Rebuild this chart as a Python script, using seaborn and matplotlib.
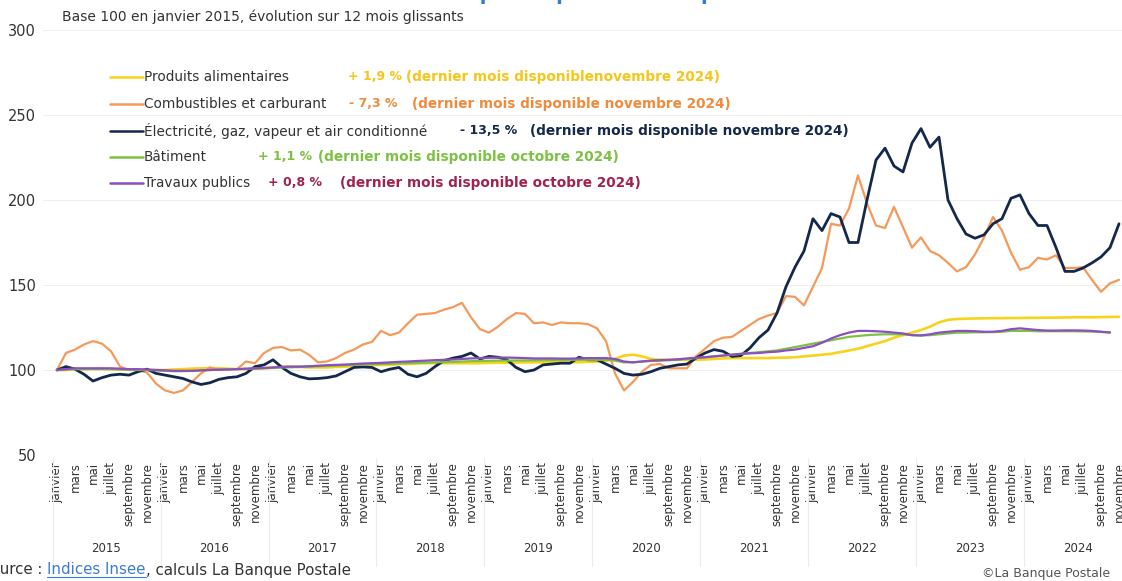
import numpy as np
import pandas as pd
import matplotlib
matplotlib.use("Agg")
import matplotlib.pyplot as plt
import matplotlib.transforms as mtransforms
import seaborn as sns

# ---------------- data ----------------
month_names = ["janvier", "février", "mars", "avril", "mai", "juin", "juillet",
               "août", "septembre", "octobre", "novembre", "décembre"]
years = list(range(2015, 2025))

alimentaires = [
    100, 100, 100.5, 100.5, 100.7, 100.7, 100.5, 100.3, 100.2, 100, 100, 100,
    100, 100.3, 100.5, 100.8, 101, 101.2, 101, 100.8, 100.5, 100.5, 100.8, 101,
    101.5, 102, 102, 101.8, 101.5, 101.5, 101.5, 101.8, 102, 102.3, 102.5, 102.8,
    103, 103, 103.5, 103.5, 103.8, 104, 104, 104, 104, 104, 104, 104,
    104.2, 104.3, 104.3, 104.4, 104.5, 104.5, 104.5, 104.5, 104.5, 104.5, 104.6, 104.8,
    105, 105.5, 106.5, 108.5, 109, 108, 106.5, 106, 106, 106, 106, 106,
    106.2, 106.5, 106.8, 107, 107, 107, 107, 107, 107.2, 107.3, 107.5, 108,
    108.5, 109, 109.5, 110.5, 111.5, 112.5, 114, 115.5, 117, 119, 120.5, 122,
    123.5, 125.5, 128, 129.5, 130, 130.2, 130.3, 130.4, 130.5, 130.5, 130.6, 130.6,
    130.7, 130.7, 130.8, 130.8, 130.9, 131, 131, 131, 131.1, 131.2, 131.3,
]

combustibles = [
    100, 110, 112, 115, 117, 115.5, 111, 102, 100, 100, 98.5, 92,
    88, 86.5, 88, 93, 98, 101.5, 100, 100.5, 100.5, 105, 104, 110,
    113, 113.5, 111.5, 112, 109, 104.5, 105, 107, 110, 112, 115, 116.5,
    123, 120.5, 122, 127.5, 132.5, 133, 133.5, 135.5, 137, 139.5, 131, 124,
    122, 125.5, 130, 133.5, 133, 127.5, 128, 126.5, 128, 127.5, 127.5, 127,
    124.5, 117, 98, 88, 93, 99, 103, 103.5, 101, 101, 101, 108,
    112.5, 117, 119, 119.5, 123, 126.5, 130, 132, 133.5, 143.5, 143, 138,
    149, 160, 186, 185, 195, 214.5, 198, 185, 183.5, 196, 184, 172,
    178, 170, 167.5, 163, 158, 160.5, 168, 178, 190, 182, 169, 159,
    160.5, 166, 165, 167.5, 160, 160, 160.5, 153, 146, 151, 153,
]

electricite = [
    100, 102, 100.5, 97.5, 93.5, 95.5, 97, 97.5, 97, 99, 100.5, 98,
    97, 96, 95, 93, 91.5, 92.5, 94.5, 95.5, 96, 98, 102, 103,
    106, 101.5, 98, 96, 94.8, 95, 95.5, 96.5, 99, 101.5, 101.8, 101.5,
    99, 100.5, 101.5, 97.5, 96, 98, 102, 105.5, 107, 108, 110, 106.5,
    108, 107.5, 106, 101.5, 99, 100, 103, 103.5, 104, 104, 107.5, 106,
    106, 103.5, 101, 98, 97, 97.5, 99, 101, 102, 103, 103.5, 107,
    110, 112, 111, 108, 108.5, 113, 119, 123.5, 133.5, 149, 160.5, 170,
    189, 182, 192, 190, 175, 175, 200, 223.5, 230.5, 220, 216.5, 233.5,
    242, 231, 237, 200, 189, 180, 177.5, 179.5, 186, 189, 201, 203,
    192, 185, 185, 172, 158, 158, 160, 163, 166.5, 172, 186,
]

batiment = [
    100, 100.2, 100.5, 100.5, 100.5, 100.5, 100.5, 100.3, 100.2, 100, 100, 99.8,
    99.5, 99.3, 99.3, 99.5, 99.7, 100, 100.2, 100.3, 100.5, 100.6, 100.8, 101,
    101.2, 101.5, 101.6, 101.8, 102, 102.2, 102.4, 102.6, 102.8, 103, 103.2, 103.4,
    103.5, 103.7, 103.8, 104, 104.2, 104.3, 104.5, 104.6, 104.8, 105, 105.2, 105.3,
    105.4, 105.5, 105.5, 105.6, 105.6, 105.7, 105.8, 105.8, 105.9, 106, 106, 106,
    106, 106, 105.5, 104.5, 104.5, 105, 105.3, 105.5, 105.8, 106, 106.5, 107,
    107.5, 108, 108.5, 109, 109.5, 110, 110.5, 111, 111.5, 112.5, 113.5, 114.5,
    115.5, 116.5, 117.5, 118.5, 119.5, 120, 120.5, 120.8, 121, 121, 121, 120.5,
    120.3, 120.5, 121, 121.5, 122, 122, 122.2, 122.2, 122.3, 122.5, 123, 123,
    123, 122.8, 122.8, 122.8, 122.8, 122.8, 122.7, 122.6, 122.4, 122.2,
]

travaux = [
    100, 100.5, 101, 101, 101, 101, 101, 100.8, 100.5, 100.5, 100.3, 100,
    99.8, 99.5, 99.5, 99.5, 99.8, 100, 100.2, 100.3, 100.5, 100.8, 101, 101.2,
    101.5, 101.8, 102, 102, 102.2, 102.5, 102.8, 103, 103.2, 103.5, 103.8, 104,
    104.2, 104.5, 104.8, 105, 105.3, 105.5, 105.8, 106, 106.2, 106.5, 106.8, 107,
    107.2, 107.3, 107.3, 107.2, 107, 106.8, 106.8, 106.8, 106.7, 106.7, 106.8, 107,
    107, 107, 106.5, 105, 104.5, 105, 105.5, 105.8, 106, 106.3, 106.8, 107.2,
    107.5, 108, 108.5, 109, 109.5, 109.8, 110, 110.5, 110.8, 111.5, 112, 113,
    114, 116, 118.5, 120.5, 122, 123, 123, 122.8, 122.5, 122, 121.5, 120.5,
    120.3, 121, 122, 122.5, 123, 123, 122.8, 122.5, 122.5, 123, 124, 124.5,
    124, 123.5, 123.2, 123.2, 123.3, 123.3, 123.2, 123, 122.5, 122,
]

series_names = ["Produits alimentaires", "Combustibles et carburant",
                "Électricité, gaz, vapeur et air conditionné", "Bâtiment",
                "Travaux publics"]
series_values = [alimentaires, combustibles, electricite, batiment, travaux]
series_colors = ["#f7d31a", "#f5995a", "#14284b", "#7cc142", "#8b4fc0"]
series_widths = [1.9, 1.6, 2.0, 1.6, 1.6]

pct_texts = ["+ 1,9 %", "- 7,3 %", "- 13,5 %", "+ 1,1 %", "+ 0,8 %"]
note_texts = ["(dernier mois disponiblenovembre 2024)",
              "(dernier mois disponible novembre 2024)",
              "(dernier mois disponible novembre 2024)",
              "(dernier mois disponible octobre 2024)",
              "(dernier mois disponible octobre 2024)"]
note_colors = ["#f5c518", "#f08a3c", "#14284b", "#7cc142", "#a0234f"]

yticks = [50, 100, 150, 200, 250, 300]

# ---------------- frame ----------------
rows = []
for name, vals in zip(series_names, series_values):
    for i, v in enumerate(vals):
        rows.append({"mois": i, "indice": v, "serie": name})
df = pd.DataFrame(rows)

# ---------------- figure ----------------
sns.set_theme(style="white")
plt.rcParams["font.family"] = ["DejaVu Sans"]

W, H = 1122, 581
fig = plt.figure(figsize=(W / 100, H / 100), dpi=100)
fig.patch.set_facecolor("white")


def fx(px):
    return px / W


def fy(py):
    return 1 - py / H


ax = fig.add_axes([fx(43), fy(455), (1140 - 43) / W, 425 / H])
ax.set_xlim((43 - 57) / 9, (1140 - 57) / 9)
ax.set_ylim(50, 300)

for name, col, lw in zip(series_names, series_colors, series_widths):
    sns.lineplot(data=df[df["serie"] == name], x="mois", y="indice",
                 color=col, linewidth=lw, ax=ax, legend=False)

for s in ax.spines.values():
    s.set_visible(False)

ax.set_yticks(yticks)
ax.set_yticklabels([str(t) for t in yticks], fontsize=10.5, color="#333333")
ax.tick_params(axis="y", length=0, pad=5)
ax.yaxis.grid(True, color="#efefef", linewidth=0.8)
ax.set_axisbelow(True)
ax.set_xlabel("")
ax.set_ylabel("")

n_months = len(alimentaires)
xt = list(range(0, n_months + 1, 2))
ax.set_xticks(xt)
ax.set_xticklabels([month_names[i % 12] for i in xt], rotation=90,
                   fontsize=8.5, color="#333333", va="top", ha="center")
ax.tick_params(axis="x", length=0, pad=5)

trans = mtransforms.blended_transform_factory(ax.transData, ax.transAxes)
for k, yr in enumerate(years):
    ax.text(12 * k + 5.5, (455 - 549) / 425, str(yr), transform=trans,
            ha="center", va="center", fontsize=8.5, color="#333333")
for k in range(0, len(years) + 1):
    ax.plot([12 * k - 0.5, 12 * k - 0.5], [(455 - 458) / 425, (455 - 566) / 425],
            transform=trans, color="#ececec", linewidth=0.8, clip_on=False)

# ---------------- legend block ----------------
row_y = [77, 104, 131, 157, 183]
pct_x = [348, 349, 460, 258, 268]
note_x = [406, 412, 530, 318, 340]
for k in range(5):
    y = fy(row_y[k])
    fig.add_artist(plt.Line2D([fx(110), fx(143)], [y, y], color=series_colors[k],
                              linewidth=1.8, transform=fig.transFigure))
    fig.text(fx(144), y, series_names[k], fontsize=9.8, color="#333333",
             va="center", ha="left")
    fig.text(fx(pct_x[k]), y, pct_texts[k], fontsize=9, fontweight="bold",
             color=note_colors[k], va="center", ha="left")
    fig.text(fx(note_x[k]), y, note_texts[k], fontsize=9.8, fontweight="bold",
             color=note_colors[k], va="center", ha="left")

# ---------------- titles & notes ----------------
fig.text(fx(600), 1.0 + 6 / H, "Indices de prix impactant la dépense locale",
         fontsize=14, fontweight="bold", color="#2a7de1", ha="center", va="center")
fig.text(fx(62), fy(17), "Base 100 en janvier 2015, évolution sur 12 mois glissants",
         fontsize=10, color="#333333", ha="left", va="center")

fig.canvas.draw()
renderer = fig.canvas.get_renderer()
t1 = fig.text(fx(-19), fy(570), "Source : ", fontsize=10.8, color="#333333",
              ha="left", va="center")
bb = t1.get_window_extent(renderer)
x2 = bb.x1 / W
t2 = fig.text(x2, fy(570), "Indices Insee", fontsize=10.8, color="#3a7bd5",
              ha="left", va="center")
bb2 = t2.get_window_extent(renderer)
fig.add_artist(plt.Line2D([bb2.x0 / W, bb2.x1 / W], [bb2.y0 / H + 0.001] * 2,
                          color="#3a7bd5", linewidth=0.8, transform=fig.transFigure))
fig.text(bb2.x1 / W, fy(570), ", calculs La Banque Postale", fontsize=10.8,
         color="#333333", ha="left", va="center")
fig.text(fx(1110), fy(574), "©La Banque Postale", fontsize=9, color="#555555",
         ha="right", va="center")

fig.savefig("out.png", dpi=100, facecolor="white")
